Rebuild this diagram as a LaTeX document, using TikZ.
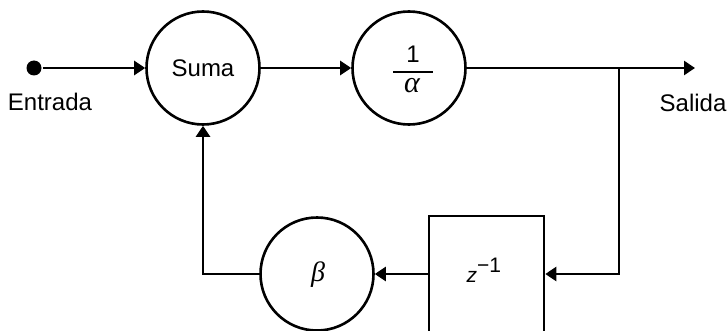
\documentclass[tikz,border=0pt]{standalone}
\usepackage{fontspec}
\setmainfont{Liberation Sans}
\newfontfamily\greekfont{Liberation Serif}
\usetikzlibrary{arrows.meta}
\begin{document}
\begin{tikzpicture}[x=1pt,y=-1pt,line width=2.6pt,
	font=\fontsize{24}{28}\selectfont,
	gain/.style={draw, circle, minimum size=113pt, inner sep=0pt},
	delaybox/.style={draw, minimum width=115pt, minimum height=116pt, inner sep=0pt},
	flow/.style={-{Triangle[length=11pt,width=14pt]}}]

	%Frame
	\useasboundingbox (0,0) rectangle (727,331);
	\clip (0,0) rectangle (727,331);

	%Input
	\node[fill, circle, inner sep=0pt, minimum size=15pt] (in) at (34,68) {};
	\node[anchor=base] (inlabel) at (50,111) {Entrada};

	%Forward path
	\node[gain] (suma) at (203,68) {Suma};
	\node[gain] (inv) at (409,68) {};
	\node[anchor=base] (one) at (413,63) {1};
	\draw[line width=1.6pt] (393,72) -- (433,72);
	\node[anchor=base] (alphatxt) at (412,93) {\greekfont\fontsize{30}{34}\selectfont\itshape α};
	\coordinate (split) at (619,68);
	\coordinate (out) at (695,68);
	\node[anchor=base] (outlabel) at (693,112) {Salida};

	%Feedback path
	\node[delaybox] (delay) at (486.5,274) {};
	\node[anchor=base west] (zinv) at (462,282) {\fontsize{21}{24}\selectfont\textit{z}\raisebox{10pt}{−1}};
	\node[gain] (beta) at (317,274) {};
	\node[anchor=base] (betatxt) at (318,281) {\greekfont\fontsize{28}{32}\selectfont\itshape β};

	%Connectors
	\draw[flow] (in) -- (suma.west);
	\draw[flow] (suma) -- (inv.west);
	\draw[flow] (inv) -- (out);
	\draw[flow] (split) |- (delay.east);
	\draw[flow] (delay) -- (beta.east);
	\draw[flow] (beta.west) -| (suma.south);

\end{tikzpicture}
\end{document}
